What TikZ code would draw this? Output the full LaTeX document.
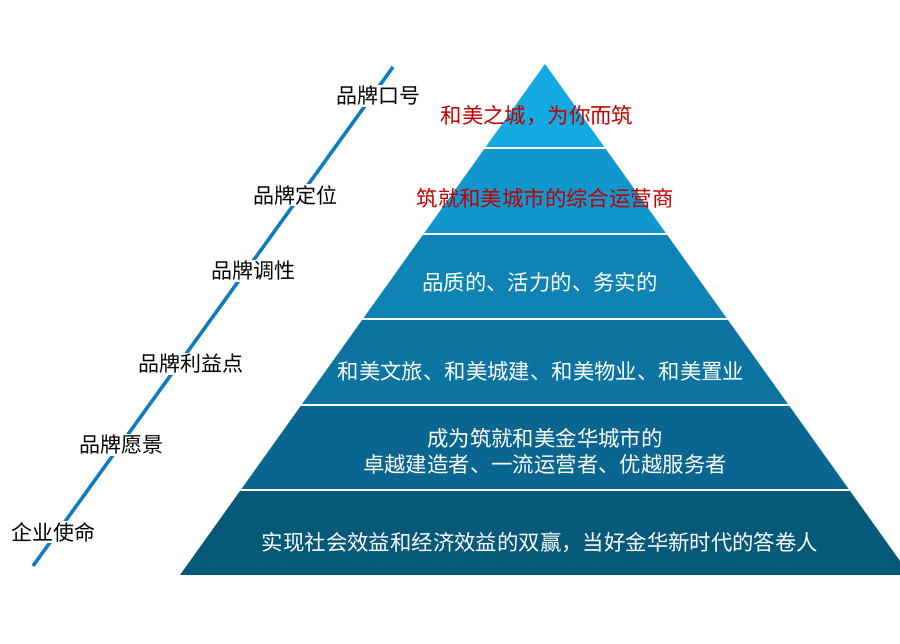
\documentclass[tikz,border=0pt]{standalone}
\usepackage{fontspec}
\setmainfont{Noto Sans CJK SC}
\usepackage{tikz}

\definecolor{bandA}{HTML}{13A9E1}
\definecolor{bandB}{HTML}{0F97CE}
\definecolor{bandC}{HTML}{1083B5}
\definecolor{bandD}{HTML}{0D73A0}
\definecolor{bandE}{HTML}{0A6690}
\definecolor{bandF}{HTML}{07597A}
\definecolor{slogan}{HTML}{C00000}
\definecolor{axisblue}{HTML}{0E7CC0}

\tikzset{
  bandtext/.style={text=white,font=\fontsize{21.4}{26}\selectfont,align=center},
  redtext/.style={text=slogan,font=\fontsize{21.4}{26}\selectfont},
  sidelabel/.style={fill=white,text=black,font=\fontsize{21}{26}\selectfont,inner sep=1pt}
}

\begin{document}
\begin{tikzpicture}[x=1pt,y=-1pt]
  \useasboundingbox (0,0) rectangle (900,643);
  % pyramid bands
  \begin{scope}
    \clip (545,64) -- (910,575) -- (180,575) -- cycle;
    \fill[bandA] (170,60) rectangle (920,148);
    \fill[bandB] (170,148) rectangle (920,234);
    \fill[bandC] (170,234) rectangle (920,319);
    \fill[bandD] (170,319) rectangle (920,405);
    \fill[bandE] (170,405) rectangle (920,490);
    \fill[bandF] (170,490) rectangle (920,575);
    \foreach \y in {148,234,319,405,490}
      \draw[white,line width=1.5pt] (170,\y) -- (920,\y);
  \end{scope}
  \node[redtext] (slogan) at (537,116) {和美之城，为你而筑};
  \node[redtext] (position) at (545,198) {筑就和美城市的综合运营商};
  \node[bandtext] (tone) at (540,282) {品质的、活力的、务实的};
  \node[bandtext] (benefit) at (541,371) {和美文旅、和美城建、和美物业、和美置业};
  \node[bandtext] (vision) at (545,451) {成为筑就和美金华城市的\\卓越建造者、一流运营者、优越服务者};
  \node[bandtext] (mission) at (540,543) {实现社会效益和经济效益的双赢，当好金华新时代的答卷人};
  % axis with labels
  \coordinate (axisbottom) at (33,566);
  \coordinate (axistop) at (393,67);
  \draw[axisblue,line width=3.5pt] (axisbottom) -- (axistop);
  \node[sidelabel] (l1) at (378,96) {品牌口号};
  \node[sidelabel] (l2) at (295,195) {品牌定位};
  \node[sidelabel] (l3) at (253,271) {品牌调性};
  \node[sidelabel] (l4) at (191,364) {品牌利益点};
  \node[sidelabel] (l5) at (121,445) {品牌愿景};
  \node[sidelabel] (l6) at (54,532) {企业使命};
\end{tikzpicture}
\end{document}
